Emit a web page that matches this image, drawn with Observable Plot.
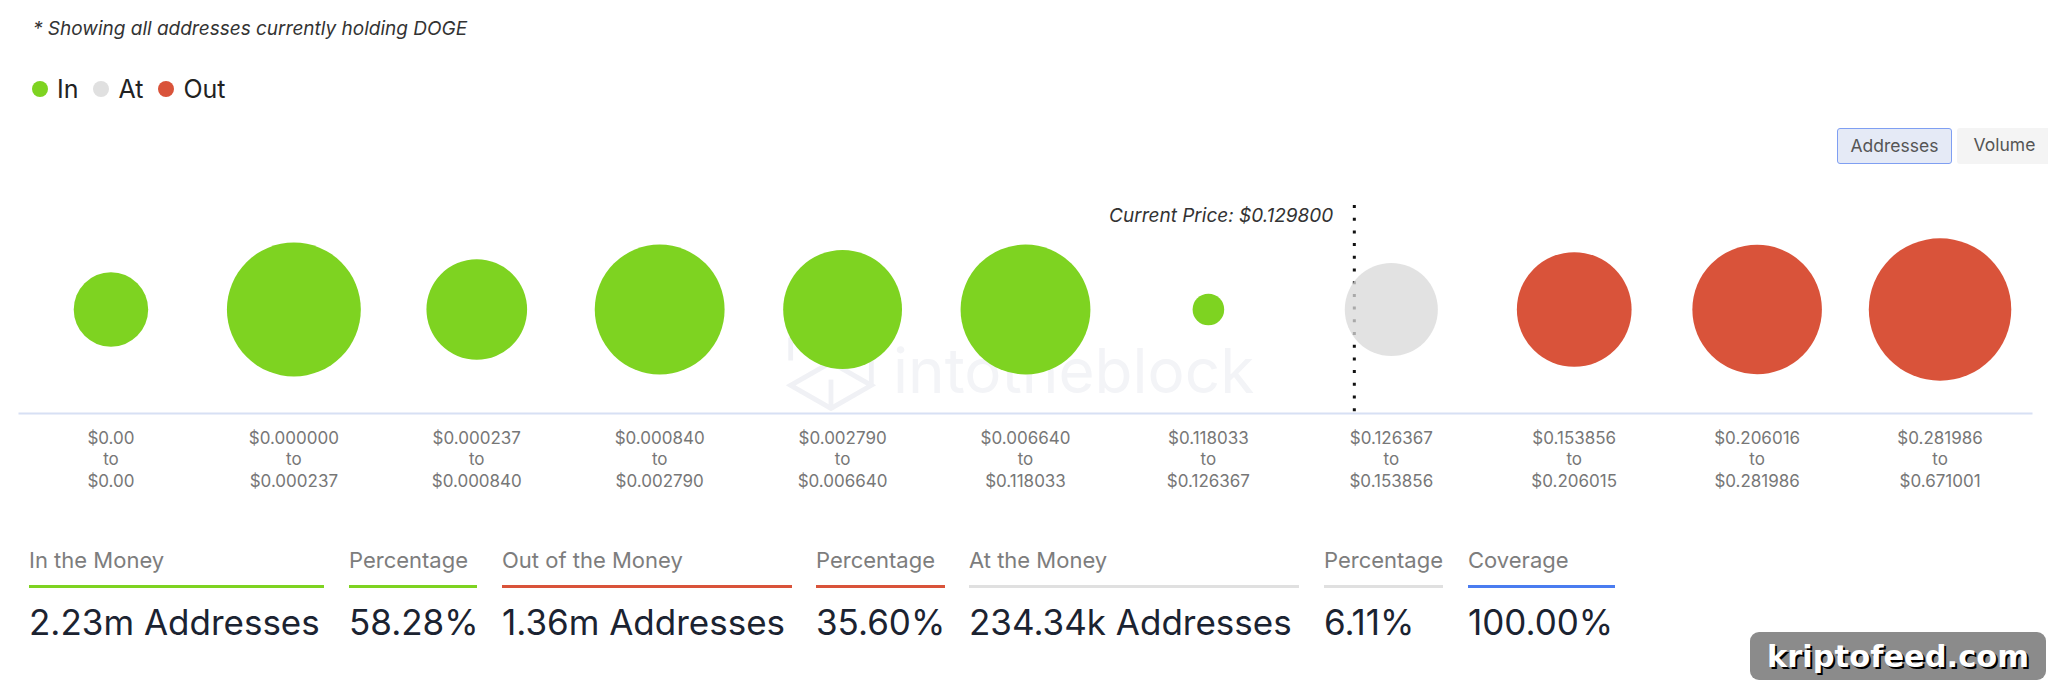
<!DOCTYPE html>
<html><head><meta charset="utf-8">
<script src="https://cdn.jsdelivr.net/npm/d3@7"></script>
<script src="https://cdn.jsdelivr.net/npm/@observablehq/plot@0.6"></script>
<style>
body{margin:0;background:#fff;font-family:Inter,"Open Sans",sans-serif;}
#page{position:relative;width:2048px;height:689px;overflow:hidden;background:#fff;}
.abs{position:absolute;white-space:nowrap;}
#caption{left:33px;top:18px;font-size:19px;line-height:22px;font-style:italic;color:#333;}
#legend{left:32px;top:76px;font-size:25px;line-height:26px;color:#222;display:flex;align-items:center;}
#legend .item{display:flex;align-items:center;margin-right:15px;}
#legend .sw{width:16px;height:16px;border-radius:50%;display:inline-block;margin-right:9px;}
.btn{top:128px;height:36px;box-sizing:border-box;font-size:17.5px;line-height:34px;color:#555;text-align:center;border-radius:3px;}
#wm{left:783px;top:320px;z-index:0;color:#f3f4f7;font-size:62px;font-weight:400;display:flex;align-items:center;}
#chart{left:0;top:180px;z-index:1;}
.stat{top:547px;}
.stat .lab{font-size:22px;line-height:26px;color:#7d7d7d;}
.stat .bar{height:3px;margin-top:12px;}
.stat .val{font-size:35px;line-height:40px;color:#1b2331;margin-top:14px;}
#kf{left:1750px;top:632px;width:296px;height:48px;background:#8b8b8b;border-radius:9px;}
</style></head>
<body><div id="page">
<div id="caption" class="abs">* Showing all addresses currently holding DOGE</div>
<div id="legend" class="abs"></div>
<div class="abs btn" style="left:1837px;width:115px;background:#e5eaf6;border:1px solid #7f9ff2;">Addresses</div>
<div class="abs btn" style="left:1957px;width:95px;background:#f4f4f4;">Volume</div>
<div id="wm" class="abs"><svg width="96" height="100" viewBox="0 0 100 100" style="margin-right:14px"><g fill="none" stroke="#f0f1f5" stroke-width="5"><path d="M8 40 L8 18 L50 2"/><path d="M8 66 L50 90 L92 66 L50 42 Z"/><path d="M50 90 L50 60"/><path d="M92 66 L92 40"/></g></svg><span>intotheblock</span></div>
<div id="chart" class="abs"></div>
<div id="stats"></div>
<div id="kf" class="abs"><svg width="296" height="48"><text x="148" y="35" text-anchor="middle" textLength="262" lengthAdjust="spacingAndGlyphs" font-family="DejaVu Sans" font-weight="bold" font-size="30" fill="#000" transform="translate(2,2)">kriptofeed.com</text><text x="148" y="35" text-anchor="middle" textLength="262" lengthAdjust="spacingAndGlyphs" font-family="DejaVu Sans" font-weight="bold" font-size="30" fill="#fff">kriptofeed.com</text></svg></div>
</div>
<script>
// ---- data ----
const binLow  = ["$0.00","$0.000000","$0.000237","$0.000840","$0.002790","$0.006640","$0.118033","$0.126367","$0.153856","$0.206016","$0.281986"];
const binHigh = ["$0.00","$0.000237","$0.000840","$0.002790","$0.006640","$0.118033","$0.126367","$0.153856","$0.206015","$0.281986","$0.671001"];
const addresses = [150000, 485000, 274000, 456000, 382000, 456000, 27000, 234340, 356000, 454000, 549000];
const status = ["In","In","In","In","In","In","In","At","Out","Out","Out"];
const statuses = ["In","At","Out"];
const statusColors = ["#7ed321","#d9d9d9","#d9533a"];
const legendColors = ["#7ed321","#e0e0e0","#d9533a"];
const currentPrice = "$0.129800";
const currentBinIndex = 7;

const statLabels = ["In the Money","Percentage","Out of the Money","Percentage","At the Money","Percentage","Coverage"];
const statValues = ["2.23m Addresses","58.28%","1.36m Addresses","35.60%","234.34k Addresses","6.11%","100.00%"];
const statColors = ["#7ed321","#7ed321","#d9533a","#d9533a","#e0e0e0","#e0e0e0","#4a7cf0"];
const statLeft = [29,349,502,816,969,1324,1468];
const statWidth = [295,128,290,129,330,119,147];

// ---- build ----
const binLabels = binLow.map((l,i)=>`${l}\nto\n${binHigh[i]}`);
const rows = binLabels.map((b,i)=>({bin:b, addresses:addresses[i], status:status[i]}));

const legend = document.getElementById("legend");
statuses.forEach((s,i)=>{
  const it = document.createElement("span"); it.className="item";
  it.innerHTML = `<span class="sw" style="background:${legendColors[i]}"></span><span>${s}</span>`;
  legend.appendChild(it);
});

const stats = document.getElementById("stats");
statLabels.forEach((l,i)=>{
  const d = document.createElement("div"); d.className="abs stat";
  d.style.left = statLeft[i]+"px"; d.style.width = statWidth[i]+"px";
  d.innerHTML = `<div class="lab">${l}</div><div class="bar" style="background:${statColors[i]}"></div><div class="val">${statValues[i]}</div>`;
  stats.appendChild(d);
});

const chart = Plot.plot({
  width: 2048, height: 320,
  marginLeft: 19, marginRight: 17, marginTop: 25, marginBottom: 87,
  x: {type: "band", domain: binLabels, padding: 0, round: false, axis: null},
  r: {type: "sqrt", domain: [0, 550000], range: [0, 71.3]},
  color: {domain: statuses, range: statusColors},
  style: {fontFamily: "Inter, sans-serif", fontSize: "17px", background: "transparent", overflow: "visible"},
  marks: [
    Plot.frame({anchor: "bottom", stroke: "#d7e0f4", strokeWidth: 2}),
    Plot.axisX({tickSize: 0, tickPadding: 15, color: "#777", lineHeight: 1.27, fontSize: 17, label: null}),
    Plot.ruleX([binLabels[currentBinIndex]], {dx: -37, stroke: "#111", strokeWidth: 3, strokeDasharray: "3,9.7"}),
    Plot.text([`Current Price: ${currentPrice}`], {x: () => binLabels[currentBinIndex], text: d => d, frameAnchor: "top", textAnchor: "end", dx: -58, dy: 3, fontStyle: "italic", fontSize: 19, fill: "#333"}),
    Plot.dot(rows.filter(d => d.status !== "At"), {x: "bin", r: "addresses", fill: "status"}),
    Plot.dot(rows.filter(d => d.status === "At"), {x: "bin", r: "addresses", fill: "status", fillOpacity: 0.76})
  ]
});
document.getElementById("chart").appendChild(chart);
</script>
</body></html>
